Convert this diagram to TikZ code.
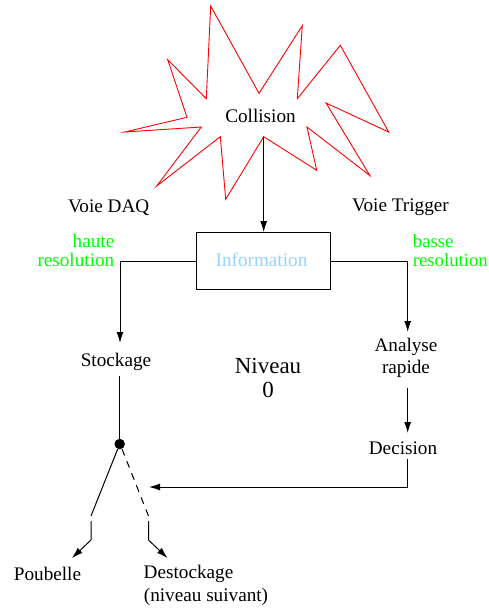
\documentclass[tikz,border=0pt]{standalone}
\usepackage{fontspec}
\setmainfont{Liberation Serif}
\usetikzlibrary{arrows.meta}
\definecolor{infoblue}{RGB}{150,210,255}
\definecolor{resgreen}{RGB}{0,255,0}
\tikzset{
  lbl/.style={inner sep=0pt,font=\fontsize{19.2}{23}\selectfont,align=center},
  grn/.style={lbl,text=resgreen},
  grnr/.style={grn,font=\fontsize{18.7}{23}\selectfont},
  conn/.style={line width=1pt,black},
  arr/.style={conn,-{Latex[length=11pt,width=7pt]}},
}
\begin{document}
\begin{tikzpicture}[x=1pt,y=-1pt]
\useasboundingbox (0,0) rectangle (488,608);
\draw[red,line width=0.9pt,line join=miter,miter limit=20] (210.7,6)--(259,93.3)--(302.3,25.7)--(297.3,98.7)--(340.3,45.3)--(388.7,132)--(326,103)--(370,175.7)--(307,127)--(316.7,170.3)--(263.7,136.7)--(225.7,199.3)--(220.3,136.7)--(156.7,186)--(201.3,127)--(124.7,132)--(187,117.3)--(167.7,59.7)--(206.3,98.7)--cycle;
\node[lbl] (coll) at (260.5,116) {Collision};
\coordinate (collb) at (263.7,136.7);
\node[draw,line width=1pt,black,minimum width=134.3pt,minimum height=57.3pt,inner sep=0pt] (info) at (263.7,261.3) {};
\node[lbl,text=infoblue] at (261.5,260) {Information};
\node[lbl] (daq) at (108.7,207.5) {Voie DAQ};
\node[lbl] (trig) at (400.5,207.5) {Voie Trigger};
\node[grn,anchor=east] (haute) at (114.5,241) {haute};
\node[grn,anchor=east] (hres) at (114.5,260) {resolution};
\node[grnr,anchor=west] (basse) at (412.7,241) {basse};
\node[grnr,anchor=west] (bres) at (412.7,260) {resolution};
\node[lbl] (stock) at (116,361.5) {Stockage};
\node[lbl] (ana) at (406,347) {Analyse};
\node[lbl] (rap) at (406,369) {rapide};
\node[lbl] (dec) at (403,448.5) {Decision};
\node[lbl,font=\fontsize{23}{27}\selectfont] (niv) at (268,366) {Niveau};
\node[lbl,font=\fontsize{23}{27}\selectfont] (zero) at (268,389.5) {0};
\node[lbl] (pou) at (47.5,573.5) {Poubelle};
\node[lbl] (des) at (188.5,573.5) {Destockage};
\node[lbl] (niv2) at (206,597) {(niveau suivant)};
\node[circle,fill=black,inner sep=0pt,minimum size=10.5pt] (dot) at (119.7,444) {};
\coordinate (lc) at (120,261.3);
\coordinate (ls) at (120,343);
\coordinate (rc) at (407.7,261.3);
\coordinate (rs) at (407.7,332);
\coordinate (stb) at (119.7,376);
\coordinate (anb) at (407.7,388);
\coordinate (dect) at (407.7,433);
\coordinate (decb) at (407.7,459);
\coordinate (dc) at (407.7,487);
\coordinate (dl) at (149,487);
\coordinate (p1) at (91,516);
\coordinate (p2) at (91,521);
\coordinate (p3) at (91,540);
\coordinate (p4) at (72,558);
\coordinate (d0) at (122,449);
\coordinate (d1) at (148.5,516);
\coordinate (d2) at (148.5,521);
\coordinate (d3) at (148.5,540);
\coordinate (d4) at (167.5,558);
\draw[arr] (collb) -- (info.north -| collb);
\draw[arr] (info.west |- lc) -- (lc) -- (ls);
\draw[arr] (info.east |- rc) -- (rc) -- (rs);
\draw[conn] (stb) -- (dot);
\draw[arr] (anb) -- (dect);
\draw[arr] (decb) -- (dc) -- (dl);
\draw[conn] (dot) -- (p1);
\draw[arr] (p2) -- (p3) -- (p4);
\draw[conn,dash pattern=on 7pt off 6pt] (d0) -- (d1);
\draw[arr] (d2) -- (d3) -- (d4);
\end{tikzpicture}
\end{document}
